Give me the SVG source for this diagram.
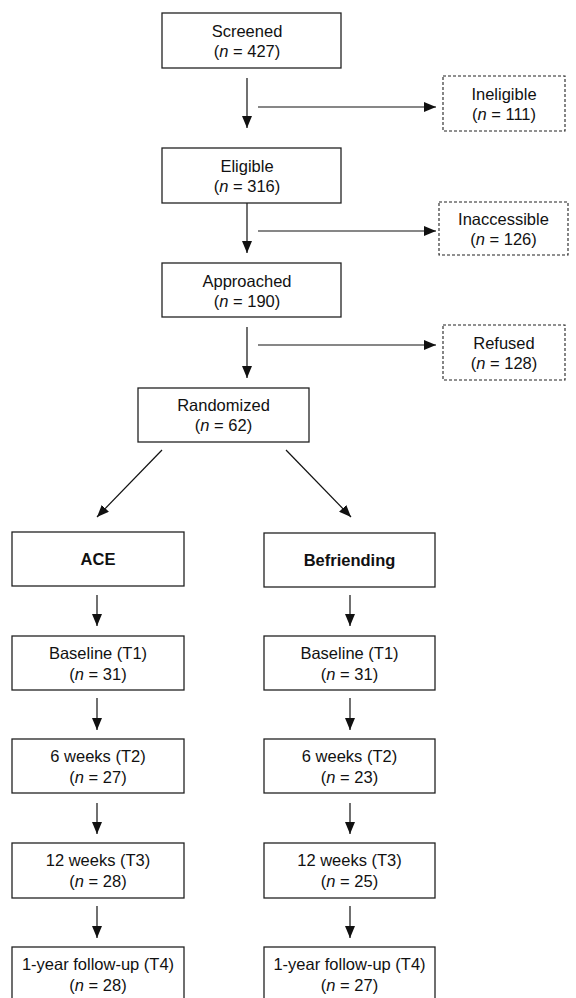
<svg xmlns="http://www.w3.org/2000/svg" width="576" height="998" viewBox="0 0 576 998">
<style>
.box{fill:#fff;stroke:#222;stroke-width:1.3}
.dash{fill:#fff;stroke:#222;stroke-width:1.1;stroke-dasharray:3 2}
.t{font-family:"Liberation Sans",Arial,sans-serif;font-size:16.5px;fill:#111;text-anchor:middle}
.b{font-weight:bold}
.i{font-style:italic}
.c line{stroke:#111;stroke-width:1.2;marker-end:url(#ah)}
</style>
<defs>
<marker id="ah" markerUnits="userSpaceOnUse" markerWidth="12" markerHeight="10" refX="12" refY="5" orient="auto">
<path d="M0,0 L12,5 L0,10 z" fill="#111"/>
</marker>
</defs>
<rect width="576" height="998" fill="#fff"/>
<g class="c" id="connectors">
<line x1="247" y1="78" x2="247" y2="128"/>
<line x1="258" y1="107" x2="436" y2="107"/>
<line x1="247" y1="202" x2="247" y2="253"/>
<line x1="258" y1="231" x2="436" y2="231"/>
<line x1="247" y1="327" x2="247" y2="378"/>
<line x1="258" y1="345" x2="436" y2="345"/>
<line x1="162" y1="450" x2="97" y2="517"/>
<line x1="286" y1="450" x2="351" y2="517"/>
<line x1="97" y1="595" x2="97" y2="626"/>
<line x1="350" y1="595" x2="350" y2="626"/>
<line x1="97" y1="698" x2="97" y2="730"/>
<line x1="350" y1="698" x2="350" y2="730"/>
<line x1="97" y1="803" x2="97" y2="834"/>
<line x1="350" y1="803" x2="350" y2="834"/>
<line x1="97" y1="906" x2="97" y2="938"/>
<line x1="350" y1="906" x2="350" y2="938"/>
</g>
<g id="screened"><rect class="box" x="162" y="13" width="179" height="55"/>
<text class="t" x="247" y="37">Screened</text><text class="t" x="247" y="57">(<tspan class="i">n</tspan> = 427)</text></g>
<g id="ineligible"><rect class="dash" x="443" y="76" width="122" height="55"/>
<text class="t" x="504" y="100">Ineligible</text><text class="t" x="504" y="120">(<tspan class="i">n</tspan> = 111)</text></g>
<g id="eligible"><rect class="box" x="162" y="148" width="179" height="55"/>
<text class="t" x="247" y="172">Eligible</text><text class="t" x="247" y="192">(<tspan class="i">n</tspan> = 316)</text></g>
<g id="inaccessible"><rect class="dash" x="439" y="202" width="129" height="53"/>
<text class="t" x="503.5" y="225">Inaccessible</text><text class="t" x="503.5" y="245">(<tspan class="i">n</tspan> = 126)</text></g>
<g id="approached"><rect class="box" x="162" y="263" width="179" height="54"/>
<text class="t" x="247" y="287">Approached</text><text class="t" x="247" y="307">(<tspan class="i">n</tspan> = 190)</text></g>
<g id="refused"><rect class="dash" x="443" y="325" width="122" height="55"/>
<text class="t" x="504" y="349">Refused</text><text class="t" x="504" y="369">(<tspan class="i">n</tspan> = 128)</text></g>
<g id="randomized"><rect class="box" x="138" y="388" width="171" height="54"/>
<text class="t" x="223.5" y="411">Randomized</text><text class="t" x="223.5" y="431">(<tspan class="i">n</tspan> = 62)</text></g>
<g id="ace"><rect class="box" x="12" y="532" width="172" height="54"/>
<text class="t b" x="98" y="565">ACE</text></g>
<g id="befriending"><rect class="box" x="264" y="533" width="171" height="54"/>
<text class="t b" x="349.5" y="566">Befriending</text></g>
<g id="ace-t1"><rect class="box" x="12" y="636" width="172" height="54"/>
<text class="t" x="98" y="659">Baseline (T1)</text><text class="t" x="98" y="680">(<tspan class="i">n</tspan> = 31)</text></g>
<g id="bef-t1"><rect class="box" x="264" y="636" width="171" height="54"/>
<text class="t" x="349.5" y="659">Baseline (T1)</text><text class="t" x="349.5" y="680">(<tspan class="i">n</tspan> = 31)</text></g>
<g id="ace-t2"><rect class="box" x="12" y="739" width="172" height="54"/>
<text class="t" x="98" y="762">6 weeks (T2)</text><text class="t" x="98" y="783">(<tspan class="i">n</tspan> = 27)</text></g>
<g id="bef-t2"><rect class="box" x="264" y="739" width="171" height="54"/>
<text class="t" x="349.5" y="762">6 weeks (T2)</text><text class="t" x="349.5" y="783">(<tspan class="i">n</tspan> = 23)</text></g>
<g id="ace-t3"><rect class="box" x="12" y="843" width="172" height="55"/>
<text class="t" x="98" y="866">12 weeks (T3)</text><text class="t" x="98" y="887">(<tspan class="i">n</tspan> = 28)</text></g>
<g id="bef-t3"><rect class="box" x="264" y="843" width="171" height="55"/>
<text class="t" x="349.5" y="866">12 weeks (T3)</text><text class="t" x="349.5" y="887">(<tspan class="i">n</tspan> = 25)</text></g>
<g id="ace-t4"><rect class="box" x="12" y="947" width="172" height="55"/>
<text class="t" x="98" y="970">1-year follow-up (T4)</text><text class="t" x="98" y="991">(<tspan class="i">n</tspan> = 28)</text></g>
<g id="bef-t4"><rect class="box" x="264" y="947" width="171" height="55"/>
<text class="t" x="349.5" y="970">1-year follow-up (T4)</text><text class="t" x="349.5" y="991">(<tspan class="i">n</tspan> = 27)</text></g>
</svg>
